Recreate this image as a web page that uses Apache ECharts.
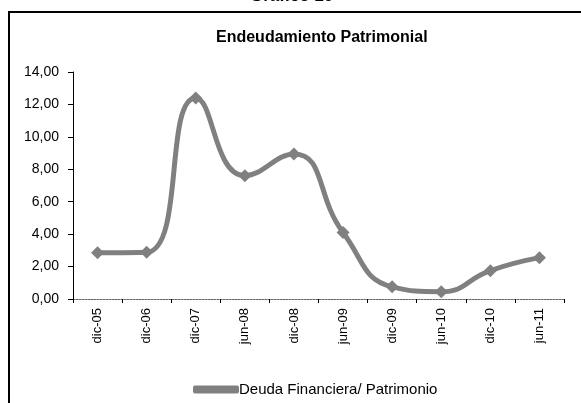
<!DOCTYPE html>
<html lang="es">
<head>
  <meta charset="UTF-8">
  <title>Endeudamiento Patrimonial</title>
  <script src="https://cdn.jsdelivr.net/npm/echarts@6/dist/echarts.min.js"></script>
  <style>
    html, body { margin: 0; padding: 0; background: #fff; }
    #chart { width: 581px; height: 403px; }
  </style>
</head>
<body>
  <div id="chart"></div>
  <script>
    // periods on the x axis
    const periods = ['dic-05', 'dic-06', 'dic-07', 'jun-08', 'dic-08', 'jun-09', 'dic-09', 'jun-10', 'dic-10', 'jun-11'];
    // Deuda Financiera / Patrimonio
    const ratio = [2.85, 2.88, 12.4, 7.6, 8.95, 4.1, 0.75, 0.45, 1.75, 2.55];
    const seriesName = 'Deuda Financiera/ Patrimonio';

    const chart = echarts.init(document.getElementById('chart'));
    const font = '"Liberation Sans", Arial, sans-serif';

    chart.setOption({
      animation: false,
      textStyle: { fontFamily: font },
      title: {
        text: 'Endeudamiento Patrimonial',
        left: 211,
        top: 25,
        textStyle: { fontSize: 16, fontWeight: 'bold', color: '#000', fontFamily: font }
      },
      graphic: [
        // partially cut-off heading above the frame
        { type: 'text', left: 250, top: -12, style: { text: 'Gráfico 10', font: 'bold 17px ' + font, fill: '#000' } },
        // white strip hiding the heading below the frame line
        { type: 'rect', shape: { x: 10, y: 13, width: 571, height: 10 }, style: { fill: '#fff' } },
        // frame edges
        { type: 'line', shape: { x1: 8, y1: 12, x2: 581, y2: 12 }, style: { stroke: '#000', lineWidth: 2 } },
        { type: 'line', shape: { x1: 9, y1: 12, x2: 9, y2: 403 }, style: { stroke: '#000', lineWidth: 2 } }
      ],
      legend: {
        top: 377,
        left: 188,
        itemWidth: 46,
        itemHeight: 8,
        itemGap: 0,
        textStyle: { fontSize: 15, color: '#000', fontFamily: font, padding: [0, 0, 0, -5] },
        data: [{ name: seriesName, icon: 'roundRect' }]
      },
      grid: { left: 73, right: 17, top: 72, bottom: 104, containLabel: false },
      xAxis: {
        type: 'category',
        data: periods,
        boundaryGap: true,
        axisLine: { lineStyle: { color: '#666', type: [2, 1], width: 1 } },
        axisTick: { show: true, alignWithLabel: false, length: 4, lineStyle: { color: '#000', type: 'solid' } },
        axisLabel: { rotate: 90, fontSize: 13, color: '#000', margin: 9, fontFamily: font },
        splitLine: { show: false }
      },
      yAxis: {
        type: 'value',
        min: 0,
        max: 14,
        interval: 2,
        axisLine: { show: true, lineStyle: { color: '#000', width: 1 } },
        axisTick: { show: true, length: 5, lineStyle: { color: '#000' } },
        axisLabel: {
          fontSize: 14,
          color: '#000',
          margin: 14,
          fontFamily: font,
          formatter: v => v.toFixed(2).replace('.', ',')
        },
        splitLine: { show: false }
      },
      series: [{
        name: seriesName,
        type: 'line',
        data: ratio,
        smooth: 0.5,
        symbol: 'diamond',
        symbolSize: 13,
        itemStyle: { color: '#808080' },
        lineStyle: { color: '#808080', width: 5 }
      }]
    });
  </script>
</body>
</html>
